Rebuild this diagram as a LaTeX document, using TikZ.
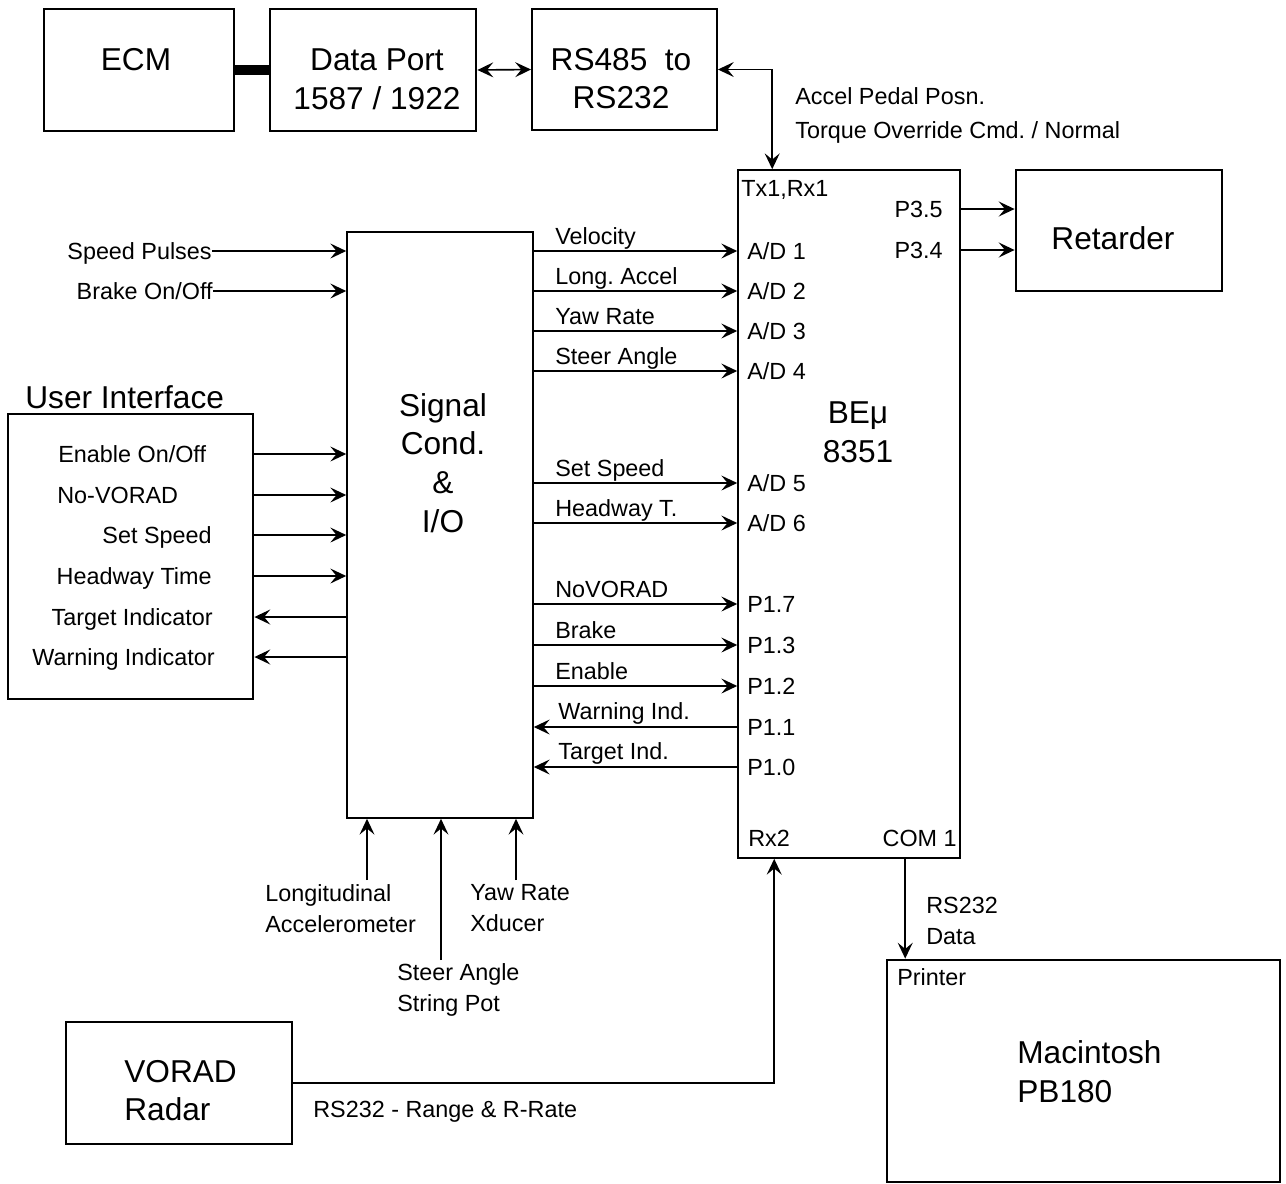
\documentclass[tikz,border=0pt]{standalone}
\usepackage{fontspec}
\setmainfont{Liberation Sans}
\usetikzlibrary{arrows.meta}

\begin{document}
\frenchspacing
\begin{tikzpicture}[x=0.2mm, y=-0.2mm,
    blk/.style={draw, line width=1.6pt, inner sep=0pt},
    fine/.style={draw, line width=0.9pt, inner sep=0pt},
    big/.style={font=\fontsize{18}{22}\selectfont, inner sep=0pt, align=center},
    sml/.style={font=\fontsize{13.3}{17.6}\selectfont, inner sep=0pt, text height=9.5pt, text depth=0pt},
    smlm/.style={font=\fontsize{13.3}{17.6}\selectfont, inner sep=0pt, align=left},
    sig/.style={line width=0.95pt, -{Stealth[length=9pt, width=8.5pt, inset=3.5pt]}},
    bisig/.style={line width=0.95pt, {Stealth[length=9pt, width=8.5pt, inset=3.5pt]}-{Stealth[length=9pt, width=8.5pt, inset=3.5pt]}}]

    \useasboundingbox (0,0) rectangle (1286,1183);

    % Blocchi
    \node[blk, minimum width=38mm, minimum height=24.4mm] (ecm) at (139,70) {};
    \node[blk, minimum width=41.2mm, minimum height=24.4mm] (dp) at (373,70) {};
    \node[fine, line width=1.1pt, minimum width=37mm, minimum height=24.2mm] (rs) at (624.5,69.5) {};
    \node[fine, minimum width=44.4mm, minimum height=137.6mm] (beu) at (849,514) {};
    \node[blk, minimum width=41.2mm, minimum height=24.2mm] (ret) at (1119,230.5) {};
    \node[fine, minimum width=37.2mm, minimum height=117.2mm] (sc) at (440,525) {};
    \node[blk, minimum width=49mm, minimum height=57mm] (ui) at (130.5,556.5) {};
    \node[blk, minimum width=45.2mm, minimum height=24.4mm] (vor) at (179,1083) {};
    \node[blk, minimum width=78.6mm, minimum height=44.4mm] (mac) at (1083.5,1071) {};

    % Testi dei blocchi
    \node[big] (ecmt) at (136,60) {ECM};
    \node[big] (dpt) at (377,79) {Data Port\\1587 / 1922};
    \node[big] (rst) at (621,78.5) {RS485\ \ to\\RS232};
    \node[big] (rett) at (1113,238) {Retarder};
    \node[big] (sct) at (443,463) {Signal\\Cond.\\\&\\I/O};
    \node[big] (beut) at (858,432.5) {BEμ\\8351};
    \node[big, anchor=west] (uit) at (25,397) {User Interface};
    \node[big, align=left, anchor=west] (vort) at (124,1090.5) {VORAD\\Radar};
    \node[big, align=left, anchor=west] (mact) at (1017,1071.5) {Macintosh\\PB180};

    % Collegamenti in alto
    \draw[line width=5.5pt] (ecm.east) -- (dp.west);
    \draw[bisig] (dp.east) -- (rs.west);
    \coordinate (txin) at ([xshift=7mm]beu.north west);
    \draw[bisig] (rs.east) -| (txin);
    \node[sml, anchor=west] (acc) at (795,96) {Accel Pedal Posn.};
    \node[sml, anchor=west] (tor) at (795,130) {Torque Override Cmd. / Normal};
    \node[sml, anchor=west] (tx) at (741,188) {Tx1,Rx1};

    % Uscite verso il retarder
    \node[sml, anchor=east] (p35) at (943,209) {P3.5};
    \node[sml, anchor=east] (p34) at (943,250) {P3.4};
    \foreach \nm in {p35,p34}
        \draw[sig] (beu.east |- \nm) -- (ret.west |- \nm);

    % Segnali dal condizionatore al micro
    \foreach \nm/\pin/\lab/\yy in {ad1/{A/D 1}/Velocity/251, ad2/{A/D 2}/Long. Accel/291,
        ad3/{A/D 3}/Yaw Rate/331, ad4/{A/D 4}/Steer Angle/371, ad5/{A/D 5}/Set Speed/483,
        ad6/{A/D 6}/Headway T./523, p17/P1.7/NoVORAD/604, p13/P1.3/Brake/645, p12/P1.2/Enable/686}{
        \node[sml, anchor=west] (\nm) at (747,\yy) {\pin};
        \node[sml, anchor=west] (\nm-lab) at (555,\yy-14.5) {\lab};
        \draw[sig] (sc.east |- \nm) -- (beu.west |- \nm);
    }
    \foreach \nm/\pin/\lab/\yy in {p11/P1.1/Warning Ind./727, p10/P1.0/Target Ind./767}{
        \node[sml, anchor=west] (\nm) at (747,\yy) {\pin};
        \node[sml, anchor=west] (\nm-lab) at (558,\yy-15.5) {\lab};
        \draw[sig] (beu.west |- \nm) -- (sc.east |- \nm);
    }

    % Ingressi esterni
    \node[sml, anchor=east] (sp) at (212,251) {Speed Pulses};
    \node[sml, anchor=east] (bk) at (213,291) {Brake On/Off};
    \foreach \nm in {sp,bk}
        \draw[sig] (\nm) -- (\nm -| sc.west);

    % Interfaccia utente
    \node[sml, anchor=west] (en) at (58,454) {Enable On/Off};
    \node[sml, anchor=west] (nv) at (57,495) {No-VORAD};
    \node[sml, anchor=east] (ss) at (212,535) {Set Speed};
    \node[sml, anchor=east] (hw) at (212,576) {Headway Time};
    \node[sml, anchor=east] (ti) at (213,617) {Target Indicator};
    \node[sml, anchor=east] (wi) at (215,657) {Warning Indicator};
    \foreach \nm in {en,nv,ss,hw}
        \draw[sig] (ui.east |- \nm) -- (sc.west |- \nm);
    \foreach \nm in {ti,wi}
        \draw[sig] (sc.west |- \nm) -- (ui.east |- \nm);

    % Sensori
    \coordinate (la) at (367,880);
    \coordinate (sa) at (441,960);
    \coordinate (yr) at (516,880);
    \foreach \nm in {la,sa,yr}
        \draw[sig] (\nm) -- (\nm |- sc.south);
    \node[smlm, anchor=west] (lon) at (265,908.5) {Longitudinal\\Accelerometer};
    \node[smlm, anchor=west] (yaw) at (470,908.5) {Yaw Rate\\Xducer};
    \node[smlm, anchor=west] (str) at (397,989.5) {Steer Angle\\String Pot};

    % Porte seriali in basso
    \node[sml, anchor=west] (rx2) at (748,838) {Rx2};
    \node[sml, anchor=east] (com) at (957,838) {COM 1};
    \coordinate (rxin) at ([xshift=7.4mm]beu.south west);
    \draw[sig] (vor.east) -| (rxin);
    \node[sml, anchor=west] (rng) at (313,1109) {RS232 - Range \& R-Rate};
    \coordinate (comout) at ([xshift=33.6mm]beu.south west);
    \draw[sig] (comout) -- (comout |- mac.north);
    \node[smlm, anchor=west] (rsd) at (926,920.5) {RS232\\Data};
    \node[sml, anchor=west] (prn) at (897,977) {Printer};

\end{tikzpicture}
\end{document}
